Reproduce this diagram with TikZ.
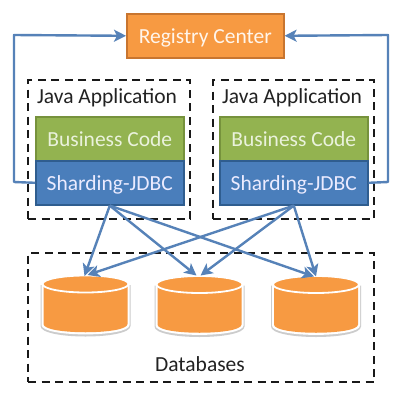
\documentclass[tikz,border=0pt]{standalone}
\usepackage{fontspec}
\setmainfont{Carlito}
\usetikzlibrary{arrows.meta,calc}
\definecolor{orfill}{HTML}{F79A42}
\definecolor{orline}{HTML}{C8752F}
\definecolor{grfill}{HTML}{93B350}
\definecolor{grline}{HTML}{76923C}
\definecolor{blfill}{HTML}{4A7EBB}
\definecolor{blline}{HTML}{2F5D8F}
\definecolor{conn}{HTML}{5682B8}
\definecolor{txt}{HTML}{222222}
\definecolor{lighttxt}{HTML}{EAF2DC}
\newcommand{\dbshape}[2]{%
  \path[fill=black!20] (#1-45,#2+9) -- (#1-45,#2+50) .. controls (#1-45,#2+64) and (#1+45,#2+64) .. (#1+45,#2+50) -- (#1+45,#2+9) -- cycle;
  \path[fill=white] (#1-44,#2+8) -- (#1-44,#2+49) .. controls (#1-44,#2+61.5) and (#1+44,#2+61.5) .. (#1+44,#2+49) -- (#1+44,#2+8) -- cycle;
  \path[fill=orfill] (#1-42,#2+8) -- (#1-42,#2+48) .. controls (#1-42,#2+59) and (#1+42,#2+59) .. (#1+42,#2+48) -- (#1+42,#2+8) -- cycle;
  \path[fill=orfill,draw=white,line width=1.8pt] (#1,#2+8) ellipse [x radius=43,y radius=8.5];
}
\tikzset{
  x=1pt,y=-1pt,
  solidbox/.style={draw,line width=1.6pt,anchor=north west,inner sep=0pt,text height=15pt,text depth=0pt,font=\fontsize{21.5}{24}\selectfont},
  orbox/.style={solidbox,fill=orfill,draw=orline,text=white!92!orange},
  grbox/.style={solidbox,fill=grfill,draw=grline,text=lighttxt},
  blbox/.style={solidbox,fill=blfill,draw=blline,text=white!92!blue},
  dashbox/.style={draw=black!90,line width=2pt,dash pattern=on 8pt off 5.5pt,anchor=north west,inner sep=0pt},
  label/.style={text=txt,font=\fontsize{21.5}{24}\selectfont,inner sep=0pt,anchor=base},
  conline/.style={draw=conn,line width=2.4pt,-{Stealth[length=12pt,width=12pt,inset=3pt]},line join=round},
  dbnode/.style={minimum width=86pt,minimum height=58pt,inner sep=0pt,anchor=north}
}
\begin{document}
\begin{tikzpicture}
\useasboundingbox[fill=white] (0,0) rectangle (408,413);
\node[dashbox,minimum width=162pt,minimum height=139pt] (appa) at (27,79) {};
\node[dashbox,minimum width=161pt,minimum height=139pt] (appb) at (212,79) {};
\node[dashbox,minimum width=346pt,minimum height=129pt] (dbs) at (27,252) {};
\node[orbox,minimum width=157pt,minimum height=44pt] (reg) at (126,13) {Registry Center};
\node[label] (ja) at (107,103) {Java Application};
\node[label] (jb) at (292,103) {Java Application};
\node[grbox,minimum width=148pt,minimum height=44pt] (bca) at (35,116) {Business Code};
\node[blbox,minimum width=148pt,minimum height=44pt] (sja) at (35,160) {Sharding-JDBC};
\node[grbox,minimum width=148pt,minimum height=44pt] (bcb) at (219,116) {Business Code};
\node[blbox,minimum width=148pt,minimum height=44pt] (sjb) at (219,160) {Sharding-JDBC};
\dbshape{85.5}{276}
\dbshape{199.5}{276.5}
\dbshape{316}{276.5}
\node[dbnode] (da) at (85.5,276) {};
\node[dbnode] (db) at (199.5,276.5) {};
\node[dbnode] (dc) at (316,276.5) {};
\node[label] (dbl) at (200,371) {Databases};
\coordinate (la) at (14,182);
\coordinate (lb) at (14,35);
\coordinate (ra) at (388,182);
\coordinate (rb) at (388,35);
\draw[conline] (sja.west) -- (la) -- (lb) -- (reg.west);
\draw[conline] (sjb.east) -- (ra) -- (rb) -- (reg.east);
\draw[conline] (sja.south) -- ($(da.north)+(-1,0)$);
\draw[conline] (sja.south) -- ($(db.north)+(-3,-1)$);
\draw[conline] (sja.south) -- ($(dc.north)+(-2,0)$);
\draw[conline] (sjb.south) -- ($(da.north)+(2,-1)$);
\draw[conline] (sjb.south) -- ($(db.north)+(1,-1)$);
\draw[conline] (sjb.south) -- ($(dc.north)+(0,0)$);
\end{tikzpicture}
\end{document}
